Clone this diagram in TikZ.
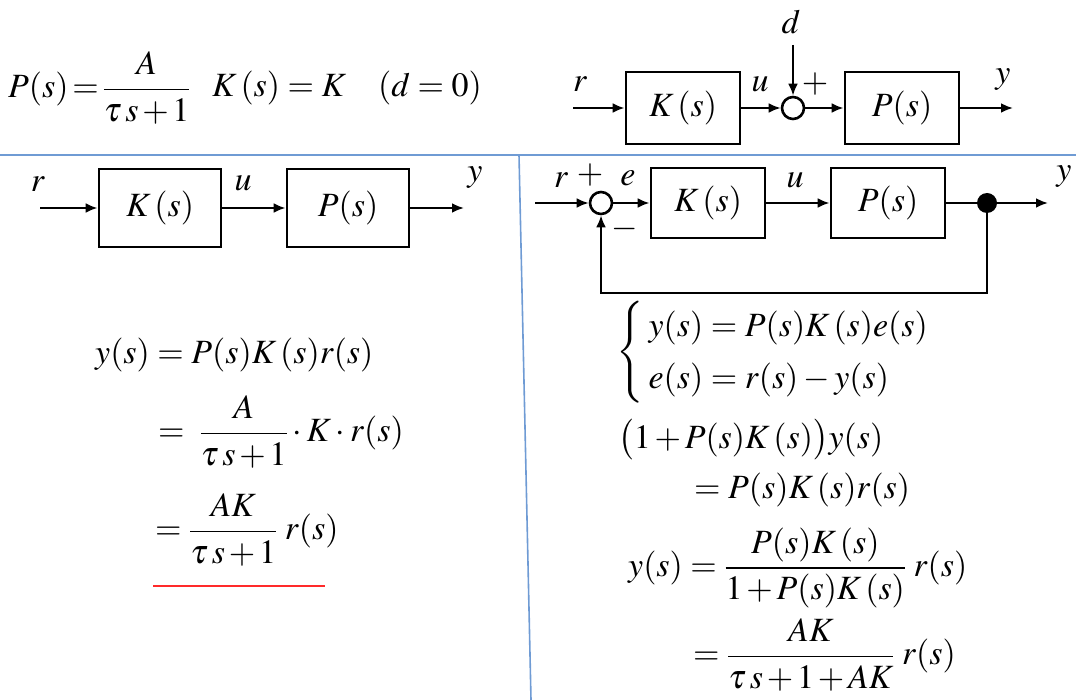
\documentclass[tikz,border=0pt]{standalone}
\usepackage{mathptmx}
\usepackage{amsmath}
\usetikzlibrary{arrows.meta, positioning}
\definecolor{sepblue}{HTML}{6F9BD4}
\definecolor{markred}{HTML}{FF2A2A}
\newcommand{\eqfont}{\fontsize{34}{40}\selectfont}
\newcommand{\pl}{\mkern2mu{+}\mkern2mu}
\newcommand{\ts}{\tau\mkern2mu s}

\begin{document}
\begin{tikzpicture}[x=1pt, y=-1pt,
  blk/.style={rectangle, draw, line width=2.8pt, minimum width=114pt, minimum height=72pt, inner sep=0pt, font=\eqfont},
  sum/.style={circle, draw, line width=2.6pt, minimum size=22pt, inner sep=0pt},
  dot/.style={circle, fill, minimum size=20pt, inner sep=0pt},
  arrow/.style={-{Latex[length=12pt,width=10pt]}, line width=2.8pt},
  lbl/.style={inner sep=0pt, font=\eqfont},
  eq/.style={inner sep=0pt, anchor=west, font=\eqfont}
]
\useasboundingbox (0,0) rectangle (1076,700);

% separators
\draw[sepblue, line width=1.6pt] (0,155) -- (1076,155);
\draw[sepblue, line width=1.6pt] (519,155) -- (531,700);

% plant and controller
\node[eq] (defp) at (8,88) {$P(s)\mkern-2mu=\mkern-2mu\dfrac{\,A\,}{\ts\pl 1}$};
\node[eq] (defk) at (212,88) {$K\,(s)=K$};
\node[eq] (defd) at (378,88) {$(d=0)$};

% top right: disturbance at plant input
\coordinate (tin) at (573,108);
\node[blk] (tk) at (683,108) {$K\,(s)$};
\node[sum] (tsum) at (793,108) {};
\coordinate (td) at (793,45);
\node[blk] (tp) at (902,108) {$P(s)$};
\coordinate (tout) at (1013,108);
\draw[arrow] (tin) -- (tk);
\draw[arrow] (tk) -- (tsum);
\draw[arrow] (td) -- (tsum);
\draw[arrow] (tsum) -- (tp);
\draw[arrow] (tp) -- (tout);
\node[lbl] (tr) at (580,84) {$r$};
\node[lbl] (tu) at (760,84) {$u$};
\node[lbl] (tdl) at (791,22) {$d$};
\node[lbl] (tplus) at (815,84) {$+$};
\node[lbl] (ty) at (1003,80) {$y$};

% bottom left: open loop
\coordinate (lin) at (40,208);
\node[blk, minimum width=122pt, minimum height=78pt] (lk) at (160,208) {$K\,(s)$};
\node[blk, minimum width=122pt, minimum height=78pt] (lp) at (348,208) {$P(s)$};
\coordinate (lout) at (464,208);
\draw[arrow] (lin) -- (lk);
\draw[arrow] (lk) -- (lp);
\draw[arrow] (lp) -- (lout);
\node[lbl] (lr) at (38,184) {$r$};
\node[lbl] (lu) at (243,183) {$u$};
\node[lbl] (ly) at (475,178) {$y$};

\node[eq] (la) at (95,355) {$y(s)=P(s)K\,(s)r(s)$};
\node[eq] (lb) at (158,432) {$=\;\dfrac{A}{\ts\pl 1}\cdot K\cdot r(s)$};
\node[eq] (lc) at (155,530) {$=\dfrac{AK}{\ts\pl 1}\;r(s)$};
\draw[markred, line width=1.3pt] (153,586) -- (325,586);

% bottom right: closed loop
\coordinate (rin) at (535,203);
\node[sum] (rsum) at (601,203) {};
\node[blk, minimum height=70pt] (rk) at (708,203) {$K\,(s)$};
\node[blk, minimum height=70pt] (rp) at (888,203) {$P(s)$};
\node[dot] (rdot) at (987,203) {};
\coordinate (rout) at (1048,203);
\coordinate (rfb) at (987,293);
\draw[arrow] (rin) -- (rsum);
\draw[arrow] (rsum) -- (rk);
\draw[arrow] (rk) -- (rp);
\draw[line width=2.8pt] (rp) -- (rdot);
\draw[arrow] (rdot) -- (rout);
\draw[arrow] (rdot) -- (rfb) -| (rsum);
\node[lbl] (rr) at (561,180) {$r$};
\node[lbl] (rplus) at (590,175) {$+$};
\node[lbl] (re) at (628,178) {$e$};
\node[lbl] (rminus) at (625,229) {$-$};
\node[lbl] (ru) at (795,180) {$u$};
\node[lbl] (ry) at (1064,177) {$y$};

\node[eq] (ra) at (616,352) {$\left\{\renewcommand{\arraystretch}{1.3}\begin{array}{l}
  y(s)=P(s)K\,(s)e(s)\\ e(s)=r(s)-y(s)\end{array}\right.$};
\node[eq] (rb) at (618,440) {$\bigl(1\pl P(s)K\,(s)\bigr)y(s)$};
\node[eq] (rc) at (694,490) {$=P(s)K\,(s)r(s)$};
\node[eq] (rd) at (628,568) {$y(s)=\dfrac{P(s)K\,(s)}{1\pl P(s)K\,(s)}\;r(s)$};
\node[eq] (re2) at (693,655) {$=\dfrac{AK}{\ts\pl 1\pl AK}\;r(s)$};
\end{tikzpicture}
\end{document}
